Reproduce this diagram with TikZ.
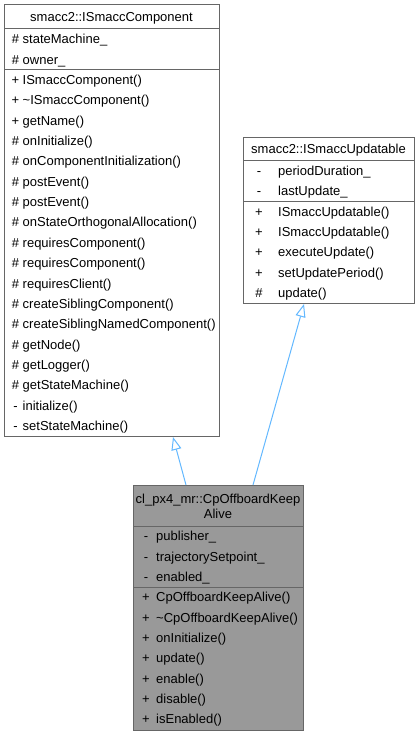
\documentclass[tikz,border=0pt]{standalone}
\usepackage{fontspec}
\setmainfont{Liberation Sans}
\usetikzlibrary{arrows.meta}
\definecolor{edgegray}{HTML}{666666}
\definecolor{fillgray}{HTML}{999999}
\definecolor{inhblue}{HTML}{63B8FF}
\tikzset{
  classbox/.style={draw=edgegray, line width=1pt, fill=white, inner sep=0pt, anchor=north west},
  sepline/.style={draw=edgegray, line width=1pt},
  title/.style={anchor=base, inner sep=0pt, font=\fontsize{13}{15.5}\selectfont},
  vis/.style={anchor=base, inner sep=0pt, font=\fontsize{13}{15.5}\selectfont},
  row/.style={anchor=base west, inner sep=0pt, font=\fontsize{13}{15.5}\selectfont},
  inherit/.style={draw=inhblue, line width=1pt, -{Triangle[open, length=13pt, width=10pt, fill=white]}}
}
\begin{document}
\begin{tikzpicture}[x=1pt,y=-1pt]
\useasboundingbox (0,0) rectangle (416,735);

% Base class: smacc2::ISmaccComponent
\node[classbox, minimum width=215pt, minimum height=432pt] (comp) at (4,4) {};
\draw[sepline] (4,29) -- (219,29);
\draw[sepline] (4,69.7) -- (219,69.7);
\node[title] (compT) at (111.5,21.1) {smacc2::ISmaccComponent};
\foreach \sym/\txt [count=\i] in {\#/stateMachine\_, \#/owner\_}
  { \node[vis] (compav\i) at (15.5,{23.45+20.35*\i}) {\sym};
    \node[row] (compa\i) at (22.5,{23.45+20.35*\i}) {\txt}; }
\foreach \sym/\txt [count=\i] in {+/ISmaccComponent(), +/\textasciitilde ISmaccComponent(),
    +/getName(), \#/onInitialize(), \#/onComponentInitialization(), \#/postEvent(),
    \#/postEvent(), \#/onStateOrthogonalAllocation(), \#/requiresComponent(),
    \#/requiresComponent(), \#/requiresClient(), \#/createSiblingComponent(),
    \#/createSiblingNamedComponent(), \#/getNode(), \#/getLogger(),
    \#/getStateMachine(), -/initialize(), -/setStateMachine()}
  { \node[vis] (compmv\i) at (15.5,{64.15+20.35*\i}) {\sym};
    \node[row] (compm\i) at (22.5,{64.15+20.35*\i}) {\txt}; }

% Base class: smacc2::ISmaccUpdatable
\node[classbox, minimum width=171pt, minimum height=166pt] (upd) at (243,137) {};
\draw[sepline] (243,160.5) -- (414,160.5);
\draw[sepline] (243,201.2) -- (414,201.2);
\node[title] (updT) at (328.5,153.3) {smacc2::ISmaccUpdatable};
\foreach \sym/\txt [count=\i] in {-/periodDuration\_, -/lastUpdate\_}
  { \node[vis] (updav\i) at (259,{154.95+20.35*\i}) {\sym};
    \node[row] (upda\i) at (278,{154.95+20.35*\i}) {\txt}; }
\foreach \sym/\txt [count=\i] in {+/ISmaccUpdatable(), +/ISmaccUpdatable(),
    +/executeUpdate(), +/setUpdatePeriod(), \#/update()}
  { \node[vis] (updmv\i) at (259,{195.65+20.35*\i}) {\sym};
    \node[row] (updm\i) at (278,{195.65+20.35*\i}) {\txt}; }

% Derived class: cl_px4_mr::CpOffboardKeepAlive
\node[classbox, fill=fillgray, minimum width=170pt, minimum height=244.5pt] (keep) at (133,485) {};
\draw[sepline] (133,526) -- (303,526);
\draw[sepline] (133,587) -- (303,587);
\node[title, anchor=center, align=center] (keepT) at (218,506.2) {cl\_px4\_mr::CpOffboardKeep\\Alive};
\foreach \sym/\txt [count=\i] in {-/publisher\_, -/trajectorySetpoint\_, -/enabled\_}
  { \node[vis] (keepav\i) at (146,{520.45+20.35*\i}) {\sym};
    \node[row] (keepa\i) at (156,{520.45+20.35*\i}) {\txt}; }
\foreach \sym/\txt [count=\i] in {+/CpOffboardKeepAlive(), +/\textasciitilde CpOffboardKeepAlive(),
    +/onInitialize(), +/update(), +/enable(), +/disable(), +/isEnabled()}
  { \node[vis] (keepmv\i) at (146,{581.45+20.35*\i}) {\sym};
    \node[row] (keepm\i) at (156,{581.45+20.35*\i}) {\txt}; }

% Inheritance
\draw[inherit] ([xshift=53pt]keep.north west) -- ([xshift=169pt]comp.south west);
\draw[inherit] ([xshift=120pt]keep.north west) -- ([xshift=61pt]upd.south west);
\end{tikzpicture}
\end{document}
